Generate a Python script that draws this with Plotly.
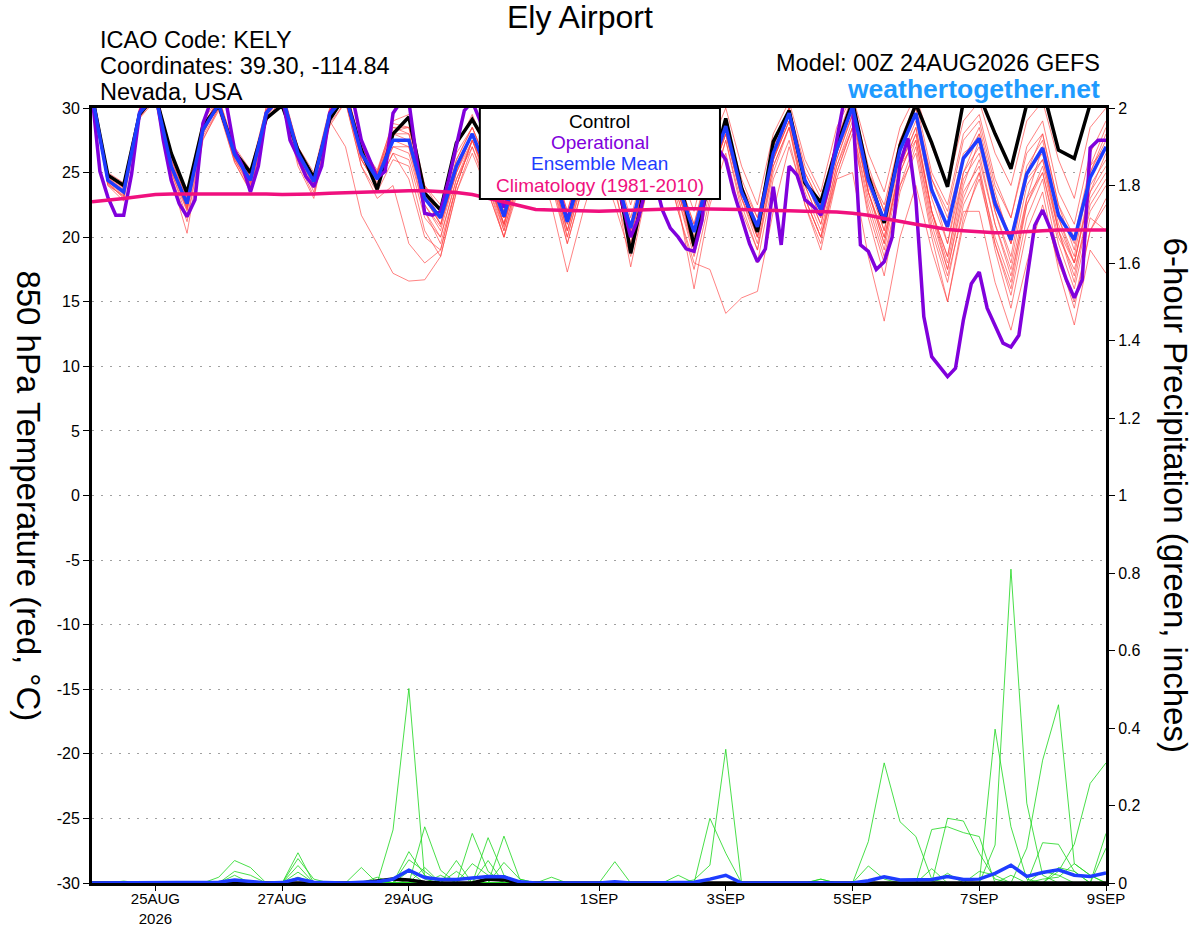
import pandas as pd
import plotly.graph_objects as go

# 6-hourly GEFS times, 3-hourly operational run
times6 = pd.date_range("2026-08-24 00:00", periods=65, freq="6h")
times3 = pd.date_range("2026-08-24 00:00", periods=129, freq="3h")

tick_dates = ["2026-08-25", "2026-08-27", "2026-08-29", "2026-09-01",
              "2026-09-03", "2026-09-05", "2026-09-07", "2026-09-09"]
tick_text = ["25AUG<br>2026", "27AUG", "29AUG", "1SEP", "3SEP", "5SEP", "7SEP", "9SEP"]
temp_ticks = [-30, -25, -20, -15, -10, -5, 0, 5, 10, 15, 20, 25, 30]
temp_tick_text = ["-30", "-25", "-20", "-15", "-10", "-5", "0", "5", "10", "15", "20", "25", "30"]

# 850 hPa temperature (C), 4 values per day (00Z 06Z 12Z 18Z)
control = [31, 24.8, 24.0, 29.5, 31, 26.5, 23.4, 28.6, 30.2, 26.6, 25.0, 29.2,
           30.2, 26.75, 24.6, 29.1, 31, 26.75, 23.7, 28.0, 29.3, 23.4, 22.1, 27.3,
           29.1, 27.0, 23.5, 27.0, 30.0, 26.0, 23.3, 27.0, 30.2, 26.0, 18.75, 24.5,
           28.5, 25.0, 19.3, 24.6, 29.2, 23.8, 20.4, 27.4, 29.8, 24.2, 22.7, 27.0,
           30.5, 24.7, 21.1, 27.1, 30.3, 27.3, 23.9, 30.5, 31, 28.0, 25.3, 30.3,
           31.5, 26.75, 26.1, 30.3, 31]

ens_mean = [31, 24.4, 23.5, 29.6, 31, 25.5, 22.6, 28.3, 30.3, 26.4, 24.4, 29.6,
            31, 26.5, 24.3, 29.5, 31, 26.5, 24.5, 27.5, 27.5, 23.0, 21.5, 25.5,
            28.0, 25.0, 21.6, 26.0, 28.5, 25.5, 21.2, 25.5, 28.5, 25.0, 20.7, 25.5,
            28.0, 24.0, 20.4, 25.0, 28.6, 23.5, 20.8, 26.5, 29.6, 24.4, 22.1, 26.75,
            30.1, 24.4, 21.3, 26.75, 29.6, 23.65, 20.8, 26.1, 27.65, 22.6, 19.8, 24.9,
            26.9, 21.7, 19.8, 24.6, 27.0]

climo = [22.75, 22.85, 23.0, 23.15, 23.3, 23.35, 23.35, 23.4, 23.4, 23.4, 23.35, 23.35,
         23.3, 23.3, 23.35, 23.4, 23.45, 23.5, 23.55, 23.6, 23.6, 23.6, 23.55, 23.45,
         23.3, 23.0, 22.7, 22.4, 22.15, 22.1, 22.05, 22.0, 22.0, 22.05, 22.1, 22.15,
         22.2, 22.2, 22.2, 22.2, 22.2, 22.15, 22.1, 22.1, 22.05, 22.0, 22.0, 21.95,
         21.85, 21.7, 21.45, 21.2, 21.0, 20.8, 20.6, 20.5, 20.4, 20.35, 20.35, 20.45,
         20.5, 20.55, 20.55, 20.55, 20.55]

operational = [31, 25.1, 23.1, 21.7, 21.7, 24.9, 29.6, 31, 31.5, 27.5, 24.4, 22.6,
               21.6, 22.9, 28.8, 30.5, 31, 30.2, 26.75, 25.5, 23.5, 25.5, 29.6, 30.5,
               31, 27.5, 26.2, 24.7, 23.9, 25.5, 29.6, 30.5, 31, 30.5, 27.5, 26.0,
               24.6, 25.1, 29.6, 30.5, 30.5, 26.0, 21.85, 21.7, 22.0, 24.4, 27.0, 29.8,
               30.5, 29.0, 26.5, 24.5, 22.3, 24.0, 27.0, 29.5, 30.2, 28.5, 26.0, 23.5,
               21.3, 23.5, 27.0, 29.0, 29.5, 27.5, 25.0, 22.5, 20.0, 21.5, 24.0, 24.5,
               22.1, 20.7, 20.0, 19.1, 18.9, 21.3, 27.0, 26.9, 26.0, 23.5, 21.6, 19.5,
               18.1, 19.1, 23.9, 19.4, 25.5, 24.8, 22.9, 22.4, 21.7, 23.9, 27.5, 30.8,
               30.3, 19.4, 18.9, 17.5, 18.1, 20.0, 25.7, 27.65, 22.9, 13.85, 10.75, 10.0,
               9.2, 9.85, 13.6, 16.4, 17.3, 14.5, 13.1, 11.8, 11.5, 12.4, 16.7, 20.9,
               22.1, 20.6, 18.5, 16.7, 15.3, 16.7, 26.9, 27.5, 27.5]

members = [
    [31.5, 24.0, 23.2, 29.8, 31.2, 25.0, 22.0, 28.0, 30.5, 26.0, 24.0, 29.0, 30.8, 26.0, 23.8, 29.0,
     27.0, 21.7, 19.5, 17.2, 16.6, 16.7, 18.5, 23.5, 27.0, 24.0, 20.5, 25.0, 28.0, 24.5, 20.0, 24.8,
     28.0, 24.5, 20.0, 25.0, 27.5, 23.0, 19.0, 24.5, 28.0, 23.0, 20.5, 26.0, 29.0, 24.0, 21.0, 26.0,
     29.5, 23.5, 19.5, 25.5, 28.5, 22.0, 18.5, 24.5, 26.5, 21.0, 17.5, 23.0, 25.0, 20.0, 17.5, 22.0, 24.0],
    [30.8, 24.8, 23.8, 29.2, 31.0, 26.0, 23.0, 28.8, 30.0, 26.5, 24.8, 29.8, 31.2, 27.0, 24.5, 29.8,
     30.5, 25.5, 23.0, 24.0, 19.5, 18.0, 19.0, 24.0, 27.5, 25.0, 21.0, 26.5, 29.0, 26.0, 22.0, 26.0,
     29.0, 25.5, 21.0, 25.5, 28.5, 24.5, 21.0, 25.5, 29.0, 24.0, 21.5, 27.0, 30.0, 25.5, 23.0, 27.5,
     31.0, 25.0, 22.0, 27.5, 30.5, 25.0, 22.5, 28.0, 29.5, 24.5, 21.5, 27.0, 29.0, 23.5, 21.0, 26.5, 29.0],
    [31.0, 24.2, 23.0, 29.5, 30.5, 24.5, 20.3, 27.5, 30.0, 25.8, 23.5, 29.0, 30.5, 25.5, 23.0, 28.8,
     30.5, 26.0, 24.0, 26.5, 26.0, 21.5, 20.0, 24.5, 27.0, 23.5, 20.0, 24.0, 26.5, 22.5, 17.3, 22.0,
     26.0, 22.5, 18.5, 23.5, 27.0, 22.0, 17.5, 23.0, 27.5, 22.0, 19.0, 25.5, 28.5, 22.5, 19.5, 25.0,
     28.5, 21.5, 17.0, 23.5, 27.0, 20.5, 16.5, 22.5, 25.0, 19.0, 14.5, 20.5, 23.5, 17.5, 13.2, 19.0, 17.2],
    [31.2, 24.6, 23.6, 29.6, 31.3, 25.8, 22.8, 28.5, 30.6, 26.6, 24.6, 29.4, 31.0, 26.8, 24.8, 29.8,
     31.0, 27.0, 25.0, 28.5, 28.5, 24.0, 22.0, 26.5, 28.5, 25.5, 22.0, 26.5, 29.0, 26.0, 21.5, 26.0,
     28.5, 25.0, 20.5, 25.0, 26.5, 22.0, 18.0, 17.5, 14.1, 15.3, 15.8, 22.0, 27.0, 23.0, 20.0, 25.5,
     28.5, 23.0, 19.0, 25.0, 28.0, 22.0, 18.5, 25.0, 27.0, 22.0, 18.0, 24.0, 26.0, 21.0, 18.0, 23.5, 25.5],
    [30.6, 24.3, 23.4, 29.3, 31.0, 25.3, 22.3, 28.0, 30.2, 26.2, 24.2, 29.6, 31.0, 26.3, 24.0, 29.2,
     31.2, 26.8, 24.8, 28.0, 28.0, 23.5, 21.0, 25.0, 28.0, 25.0, 21.5, 26.0, 28.5, 25.5, 21.0, 25.5,
     28.0, 24.5, 20.5, 25.0, 28.0, 24.0, 19.5, 24.5, 28.5, 23.5, 20.5, 26.0, 29.0, 23.0, 20.0, 24.5,
     25.0, 18.5, 13.5, 20.0, 24.0, 19.0, 15.0, 21.5, 24.5, 19.5, 16.0, 22.5, 25.5, 20.5, 17.0, 23.0, 25.0],
    [31.4, 24.7, 23.9, 29.9, 31.5, 25.7, 22.5, 28.5, 30.8, 26.8, 24.5, 29.8, 31.2, 26.7, 24.5, 29.6,
     31.0, 26.5, 24.5, 27.0, 27.0, 22.5, 20.5, 25.0, 28.0, 24.5, 21.0, 25.5, 28.0, 25.0, 20.5, 25.0,
     28.0, 24.5, 19.5, 24.5, 27.5, 23.5, 19.0, 24.5, 28.0, 23.0, 20.0, 26.0, 29.5, 24.5, 21.5, 26.5,
     29.5, 23.5, 20.0, 25.5, 27.5, 21.0, 17.0, 22.0, 22.0, 16.5, 12.8, 18.0, 22.5, 18.0, 15.0, 20.5, 22.5],
    [31.5, 25.0, 24.2, 30.0, 31.5, 26.5, 23.5, 29.0, 30.8, 27.0, 25.2, 30.0, 31.5, 27.0, 25.0, 30.0,
     31.5, 27.2, 25.0, 29.0, 29.5, 24.0, 22.5, 27.0, 29.5, 26.5, 23.5, 28.0, 30.0, 27.0, 23.0, 27.5,
     30.0, 26.5, 22.5, 27.0, 29.5, 25.5, 22.0, 27.0, 30.0, 25.5, 22.5, 28.0, 30.5, 26.0, 23.5, 28.5,
     31.0, 26.5, 23.5, 28.5, 31.0, 27.0, 24.0, 29.0, 30.5, 26.5, 24.0, 29.0, 30.5, 26.0, 23.0, 28.5, 30.0],
    [30.9, 24.1, 23.1, 29.4, 30.8, 25.1, 21.5, 27.8, 30.0, 26.0, 23.8, 29.2, 30.6, 26.2, 23.5, 29.0,
     30.8, 26.0, 24.0, 27.0, 26.5, 22.0, 20.0, 24.5, 27.5, 24.0, 20.0, 25.0, 27.5, 24.5, 19.5, 24.0,
     27.5, 24.0, 17.7, 23.5, 27.0, 22.5, 16.0, 22.5, 26.5, 21.5, 18.0, 24.5, 27.5, 22.5, 19.0, 24.5,
     28.0, 22.0, 18.0, 24.0, 26.5, 20.0, 15.0, 21.0, 25.0, 20.0, 16.5, 23.0, 27.0, 21.5, 18.5, 25.0, 28.0],
    [31.3, 24.5, 23.7, 29.7, 31.1, 25.5, 22.7, 28.4, 30.4, 26.3, 24.3, 29.5, 31.1, 26.5, 24.2, 29.4,
     30.8, 26.8, 24.8, 28.0, 27.5, 22.5, 20.8, 25.5, 28.0, 25.0, 21.5, 26.0, 28.5, 25.5, 21.0, 25.5,
     28.5, 25.0, 20.5, 25.5, 28.0, 24.0, 20.0, 25.0, 28.5, 23.5, 20.5, 26.5, 29.5, 24.5, 22.0, 26.5,
     30.0, 24.5, 21.5, 27.0, 29.5, 23.5, 20.5, 26.0, 28.0, 23.0, 20.0, 25.5, 27.5, 22.0, 19.5, 25.0, 27.5],
    [30.7, 24.9, 24.0, 29.8, 31.4, 26.2, 23.2, 28.9, 30.3, 26.7, 24.9, 30.1, 31.3, 26.9, 24.7, 29.9,
     31.2, 27.0, 25.2, 28.8, 28.5, 23.5, 21.5, 26.0, 28.5, 25.5, 22.0, 26.5, 29.0, 26.0, 22.0, 26.5,
     29.0, 25.5, 21.5, 26.0, 28.5, 24.5, 21.0, 26.0, 29.0, 24.5, 21.5, 27.0, 30.0, 25.0, 22.5, 27.5,
     30.5, 25.0, 22.5, 27.5, 30.0, 24.5, 22.0, 27.5, 29.0, 24.0, 21.5, 26.5, 28.0, 22.5, 20.0, 25.5, 28.5],
    [31.1, 24.3, 23.3, 29.5, 31.0, 25.4, 22.1, 28.2, 30.1, 26.1, 24.1, 29.3, 30.9, 26.4, 24.1, 29.3,
     31.0, 26.5, 24.5, 27.5, 27.0, 22.0, 19.5, 24.0, 27.5, 24.5, 20.5, 25.0, 28.0, 25.0, 20.5, 25.0,
     28.0, 24.5, 20.0, 25.0, 27.5, 23.5, 19.5, 24.5, 28.0, 23.0, 19.5, 25.5, 28.5, 23.5, 20.5, 25.5,
     29.0, 23.5, 20.0, 25.0, 28.0, 22.0, 17.5, 23.5, 25.5, 19.5, 15.5, 21.5, 24.5, 18.5, 14.5, 20.5, 23.0],
    [31.6, 24.6, 23.8, 29.7, 31.2, 25.6, 22.4, 28.6, 30.7, 26.5, 24.7, 29.9, 31.0, 26.6, 24.4, 29.7,
     31.4, 27.0, 25.0, 28.5, 28.0, 23.0, 21.0, 25.0, 27.5, 24.5, 21.0, 25.5, 28.0, 25.0, 20.0, 24.5,
     28.0, 24.5, 19.5, 24.5, 28.0, 24.0, 19.0, 24.0, 28.5, 23.5, 20.0, 26.0, 29.5, 24.5, 21.5, 26.5,
     30.5, 24.5, 20.5, 26.5, 30.0, 24.0, 19.5, 26.0, 28.5, 23.5, 19.5, 25.0, 27.0, 21.5, 18.0, 24.0, 26.0],
    [31.0, 24.0, 22.8, 29.2, 30.6, 24.8, 21.2, 27.6, 29.8, 25.8, 23.6, 29.0, 30.4, 25.8, 23.2, 28.6,
     30.5, 25.5, 23.5, 26.0, 25.5, 20.5, 18.5, 23.5, 26.5, 23.5, 20.0, 24.5, 27.5, 24.0, 19.5, 24.0,
     27.0, 23.5, 19.0, 24.0, 27.0, 23.0, 18.5, 23.5, 27.5, 22.5, 19.0, 25.0, 28.5, 23.0, 20.0, 25.0,
     28.5, 22.5, 18.5, 24.0, 27.5, 21.5, 17.5, 23.0, 26.0, 21.0, 17.0, 22.5, 25.0, 19.5, 16.0, 21.5, 20.5],
    [31.2, 24.8, 23.9, 29.9, 31.3, 26.0, 23.0, 28.7, 30.5, 26.6, 24.7, 29.8, 31.4, 26.8, 24.6, 29.8,
     31.5, 27.0, 24.8, 28.2, 28.5, 23.5, 21.5, 26.0, 28.5, 25.5, 21.5, 26.5, 29.0, 26.0, 21.5, 26.0,
     29.0, 25.0, 21.0, 25.5, 28.5, 24.0, 20.5, 25.5, 29.0, 24.0, 21.0, 26.5, 30.0, 25.0, 22.5, 27.0,
     30.5, 25.5, 22.0, 27.0, 29.5, 24.5, 21.5, 26.5, 27.5, 22.5, 19.5, 24.5, 26.0, 20.5, 18.0, 23.5, 26.5],
    [30.8, 24.4, 23.5, 29.6, 30.9, 25.2, 22.2, 28.1, 30.3, 26.3, 24.3, 29.6, 30.8, 26.2, 23.9, 29.2,
     30.6, 26.2, 24.2, 27.5, 27.5, 23.0, 21.0, 25.5, 28.0, 24.5, 20.8, 25.5, 28.0, 25.0, 20.5, 25.0,
     28.0, 24.5, 20.0, 25.0, 27.5, 23.5, 19.5, 24.5, 28.0, 23.5, 20.0, 26.0, 29.0, 24.0, 21.0, 26.0,
     29.5, 23.5, 19.5, 25.5, 28.5, 22.0, 18.0, 24.0, 27.5, 22.0, 18.5, 25.0, 28.0, 22.5, 19.0, 25.5, 27.0],
    [31.5, 24.2, 23.2, 29.4, 31.0, 25.4, 22.3, 28.3, 30.2, 26.4, 24.5, 29.7, 31.2, 26.6, 24.3, 29.6,
     31.0, 26.0, 24.0, 26.5, 24.5, 20.0, 19.0, 24.0, 27.5, 24.5, 21.0, 25.5, 28.5, 25.5, 21.5, 26.0,
     28.5, 25.0, 21.0, 25.5, 28.0, 24.5, 20.5, 25.0, 28.5, 24.0, 21.0, 26.5, 29.5, 24.5, 22.0, 26.5,
     30.0, 24.0, 20.5, 26.0, 29.0, 23.0, 19.5, 25.0, 28.0, 23.0, 19.5, 25.0, 26.5, 20.5, 16.5, 22.5, 24.5],
]

# 6-hour precipitation (inches)
precip_mean = [0, 0, 0, 0, 0.002, 0, 0, 0, 0.002, 0.008, 0.004, 0, 0.001, 0.011, 0.002, 0,
               0, 0.002, 0.003, 0.01, 0.033, 0.014, 0.009, 0.009, 0.014, 0.017, 0.016, 0.003, 0, 0.001, 0, 0,
               0, 0.003, 0, 0, 0, 0.001, 0.002, 0.01, 0.02, 0, 0, 0, 0, 0, 0.001, 0,
               0, 0.006, 0.016, 0.008, 0.008, 0.009, 0.017, 0.009, 0.01, 0.025, 0.046, 0.017, 0.027, 0.034, 0.02, 0.017,
               0.026]
precip_control = [0, 0, 0, 0, 0, 0, 0, 0, 0, 0, 0, 0, 0, 0, 0, 0,
                  0, 0, 0.005, 0.01, 0.008, 0.002, 0, 0, 0, 0.01, 0.008, 0, 0, 0, 0, 0,
                  0, 0, 0, 0, 0, 0, 0, 0, 0, 0, 0, 0, 0, 0, 0, 0,
                  0, 0, 0, 0, 0, 0, 0, 0, 0, 0, 0, 0, 0, 0, 0, 0, 0]

precip_members = [
    [0, 0, 0, 0, 0, 0, 0, 0, 0, 0, 0, 0, 0, 0.078, 0, 0,
     0, 0, 0, 0.137, 0.502, 0.01, 0, 0, 0, 0, 0, 0, 0, 0, 0, 0,
     0, 0, 0, 0, 0, 0, 0, 0, 0, 0, 0, 0, 0, 0, 0.01, 0,
     0, 0, 0, 0, 0, 0, 0, 0, 0, 0, 0, 0, 0.01, 0.015, 0.05, 0.02, 0],
    [0, 0, 0.005, 0, 0, 0, 0, 0, 0, 0, 0, 0, 0, 0.063, 0.01, 0,
     0, 0, 0, 0, 0.081, 0.02, 0, 0, 0, 0, 0, 0, 0, 0, 0, 0,
     0, 0, 0, 0, 0, 0, 0, 0, 0, 0, 0, 0, 0, 0, 0, 0,
     0, 0, 0, 0, 0, 0, 0, 0, 0, 0, 0, 0.09, 0.317, 0.46, 0.05, 0.02, 0],
    [0, 0, 0, 0, 0, 0, 0, 0, 0.015, 0.058, 0.04, 0, 0, 0, 0, 0,
     0, 0, 0, 0, 0.06, 0.03, 0, 0, 0, 0, 0.053, 0.01, 0, 0, 0, 0,
     0, 0, 0, 0, 0, 0, 0, 0.167, 0.077, 0, 0, 0, 0, 0, 0, 0,
     0, 0, 0, 0, 0, 0, 0, 0, 0, 0, 0.02, 0, 0, 0.04, 0.03, 0, 0],
    [0, 0, 0, 0, 0, 0, 0, 0, 0, 0.03, 0.02, 0, 0, 0, 0, 0,
     0, 0, 0, 0, 0.03, 0, 0, 0, 0.05, 0.02, 0, 0, 0, 0, 0, 0,
     0, 0, 0, 0, 0, 0, 0, 0, 0, 0, 0, 0, 0, 0, 0.01, 0,
     0, 0, 0, 0, 0, 0, 0, 0, 0, 0, 0, 0, 0, 0.03, 0.1, 0.257, 0.31],
    [0, 0, 0, 0, 0, 0, 0, 0, 0, 0.02, 0, 0, 0, 0, 0, 0,
     0, 0, 0.015, 0, 0, 0.145, 0.033, 0, 0, 0, 0, 0, 0, 0, 0, 0,
     0, 0, 0, 0, 0, 0, 0, 0, 0, 0, 0, 0, 0, 0, 0, 0,
     0, 0.107, 0.31, 0.158, 0.12, 0.01, 0, 0, 0, 0, 0, 0, 0, 0, 0, 0, 0],
    [0, 0, 0, 0, 0, 0, 0, 0, 0, 0, 0, 0, 0, 0.045, 0, 0,
     0, 0, 0, 0.01, 0, 0, 0, 0.058, 0, 0.058, 0, 0, 0, 0, 0, 0,
     0, 0, 0, 0, 0, 0, 0, 0, 0, 0, 0, 0, 0, 0, 0, 0,
     0, 0.044, 0.01, 0, 0, 0, 0.025, 0, 0, 0, 0, 0, 0, 0, 0, 0, 0.128],
    [0, 0, 0, 0, 0, 0, 0, 0, 0, 0, 0, 0, 0, 0.028, 0, 0,
     0, 0, 0, 0, 0, 0.04, 0, 0, 0.128, 0.03, 0, 0, 0, 0, 0, 0,
     0, 0, 0, 0, 0, 0, 0, 0, 0, 0, 0, 0, 0, 0, 0, 0,
     0, 0, 0, 0, 0, 0.138, 0.145, 0.13, 0.12, 0, 0, 0, 0, 0, 0, 0, 0],
    [0, 0, 0, 0, 0, 0, 0, 0, 0, 0, 0, 0, 0, 0.015, 0, 0,
     0, 0, 0, 0, 0, 0, 0.02, 0, 0, 0.117, 0.02, 0, 0, 0, 0, 0,
     0, 0, 0, 0, 0, 0, 0, 0, 0, 0, 0, 0, 0, 0, 0, 0,
     0, 0, 0, 0, 0, 0.037, 0, 0, 0.03, 0.02, 0, 0, 0.03, 0.02, 0, 0, 0.09],
    [0, 0, 0, 0, 0, 0, 0, 0, 0, 0, 0, 0, 0, 0, 0, 0,
     0, 0.04, 0, 0, 0, 0, 0, 0.03, 0, 0, 0.121, 0.01, 0, 0, 0, 0,
     0, 0, 0, 0, 0, 0, 0, 0, 0, 0, 0, 0, 0, 0, 0, 0,
     0, 0, 0, 0, 0, 0, 0, 0, 0, 0, 0, 0, 0.104, 0.1, 0.03, 0, 0],
    [0, 0, 0, 0, 0, 0, 0, 0, 0, 0, 0, 0, 0, 0, 0, 0,
     0, 0, 0, 0, 0, 0, 0, 0, 0, 0, 0, 0, 0, 0.015, 0, 0,
     0, 0.055, 0, 0, 0, 0, 0, 0, 0, 0, 0, 0, 0, 0, 0, 0,
     0, 0, 0, 0, 0, 0, 0.167, 0.16, 0.077, 0.01, 0, 0, 0, 0, 0, 0, 0],
    [0, 0, 0, 0, 0, 0, 0, 0, 0, 0, 0, 0, 0, 0, 0, 0,
     0, 0, 0, 0, 0, 0, 0, 0, 0, 0, 0, 0, 0, 0, 0, 0,
     0, 0, 0, 0, 0, 0.02, 0, 0, 0, 0, 0, 0, 0, 0, 0, 0,
     0, 0, 0, 0, 0, 0, 0, 0, 0, 0.397, 0.145, 0.01, 0, 0, 0, 0, 0],
    [0, 0, 0, 0, 0, 0, 0, 0, 0, 0, 0, 0, 0, 0, 0, 0,
     0, 0, 0, 0, 0, 0, 0, 0, 0, 0, 0, 0, 0, 0, 0, 0,
     0, 0, 0, 0, 0, 0, 0.008, 0.046, 0.345, 0, 0, 0, 0, 0, 0, 0,
     0, 0, 0, 0, 0, 0, 0, 0, 0, 0.098, 0.81, 0.206, 0.02, 0, 0, 0, 0],
]

FONT = "Liberation Sans, Arial, Helvetica, sans-serif"
RED = "rgba(255,70,70,0.75)"
GREEN = "rgba(30,215,30,0.9)"

fig = go.Figure()

for m in members:
    fig.add_trace(go.Scatter(x=times6, y=m, mode="lines",
                             line=dict(color=RED, width=0.9), hoverinfo="skip"))

fig.add_trace(go.Scatter(x=times6, y=control, mode="lines",
                         line=dict(color="black", width=3.5)))
fig.add_trace(go.Scatter(x=times3, y=operational, mode="lines",
                         line=dict(color="#8000dc", width=3.5)))
fig.add_trace(go.Scatter(x=times6, y=ens_mean, mode="lines",
                         line=dict(color="#1e3cff", width=3.5)))
fig.add_trace(go.Scatter(x=times6, y=climo, mode="lines",
                         line=dict(color="#f0107e", width=3.5)))

for p in precip_members:
    fig.add_trace(go.Scatter(x=times6, y=p, mode="lines", yaxis="y2",
                             line=dict(color=GREEN, width=0.9), hoverinfo="skip"))
fig.add_trace(go.Scatter(x=times6, y=precip_control, mode="lines", yaxis="y2",
                         line=dict(color="black", width=3.5)))
fig.add_trace(go.Scatter(x=times6, y=precip_mean, mode="lines", yaxis="y2",
                         line=dict(color="#1e3cff", width=3.5)))

# legend box (text only, coloured)
legend_items = [("Control", "black"), ("Operational", "#8000dc"),
                ("Ensemble Mean", "#1e3cff"), ("Climatology (1981-2010)", "#f0107e")]
annotations = []
for k, (txt, col) in enumerate(legend_items):
    annotations.append(dict(xref="paper", yref="paper", x=0.5009, y=0.983 - k * 0.0275,
                            text=txt, showarrow=False, xanchor="center", yanchor="middle",
                            font=dict(family=FONT, size=19, color=col)))

annotations += [
    dict(xref="paper", yref="paper", x=0.481, y=1.117, text="Ely Airport", showarrow=False,
         xanchor="center", yanchor="middle", font=dict(family=FONT, size=32, color="black")),
    dict(xref="paper", yref="paper", x=0.0055, y=1.0877, text="ICAO Code: KELY", showarrow=False,
         xanchor="left", yanchor="middle", font=dict(family=FONT, size=23.5, color="black")),
    dict(xref="paper", yref="paper", x=0.0055, y=1.0542, text="Coordinates: 39.30, -114.84",
         showarrow=False, xanchor="left", yanchor="middle",
         font=dict(family=FONT, size=23.5, color="black")),
    dict(xref="paper", yref="paper", x=0.0055, y=1.0206, text="Nevada, USA", showarrow=False,
         xanchor="left", yanchor="middle", font=dict(family=FONT, size=23.5, color="black")),
    dict(xref="paper", yref="paper", x=0.9963, y=1.058, text="Model: 00Z 24AUG2026 GEFS",
         showarrow=False, xanchor="right", yanchor="middle",
         font=dict(family=FONT, size=23.5, color="black")),
    dict(xref="paper", yref="paper", x=0.9963, y=1.0245, text="<b>weathertogether.net</b>",
         showarrow=False, xanchor="right", yanchor="middle",
         font=dict(family=FONT, size=26.5, color="#1e9bff")),
    dict(xref="paper", yref="paper", x=-0.063, y=0.50, text="850 hPa Temperature (red, °C)",
         showarrow=False, textangle=90, xanchor="center", yanchor="middle",
         font=dict(family=FONT, size=33, color="black")),
    dict(xref="paper", yref="paper", x=1.069, y=0.50, text="6-hour Precipitation (green, inches)",
         showarrow=False, textangle=90, xanchor="center", yanchor="middle",
         font=dict(family=FONT, size=33, color="black")),
]

fig.update_layout(
    width=1200, height=927,
    margin=dict(l=92, r=94, t=108, b=44, autoexpand=False),
    paper_bgcolor="white", plot_bgcolor="white",
    showlegend=False,
    font=dict(family=FONT, size=15, color="black"),
    xaxis=dict(type="date", range=["2026-08-24 00:00", "2026-09-09 00:00"],
               tickvals=tick_dates, ticktext=tick_text, ticks="outside", ticklen=5,
               tickwidth=1, tickcolor="black", showgrid=False, zeroline=False,
               showline=True, linecolor="black", linewidth=3, mirror=True,
               automargin=False, ticklabelstandoff=-5, tickfont=dict(size=15)),
    yaxis=dict(range=[-30, 30], tickvals=temp_ticks, ticktext=temp_tick_text, ticks="outside",
               ticklen=6, tickcolor="black", showline=True, linecolor="black", linewidth=3,
               showgrid=True, gridcolor="#a0a0a0", griddash="2px,7px", gridwidth=1,
               zeroline=False, automargin=False, tickfont=dict(size=16)),
    yaxis2=dict(range=[0, 2], dtick=0.2, overlaying="y", side="right", ticks="outside",
                ticklen=6, tickcolor="black", showline=True, linecolor="black", linewidth=3,
                showgrid=False, zeroline=False, automargin=False, tickfont=dict(size=16)),
    shapes=[dict(type="rect", xref="paper", yref="paper", x0=0.3825, x1=0.6193,
                 y0=0.8826, y1=1.0, fillcolor="white", line=dict(color="black", width=2),
                 layer="above")],
    annotations=annotations,
)

fig.write_html("out.html", config={"displayModeBar": False},
               post_script="document.body.style.margin='0px';")
